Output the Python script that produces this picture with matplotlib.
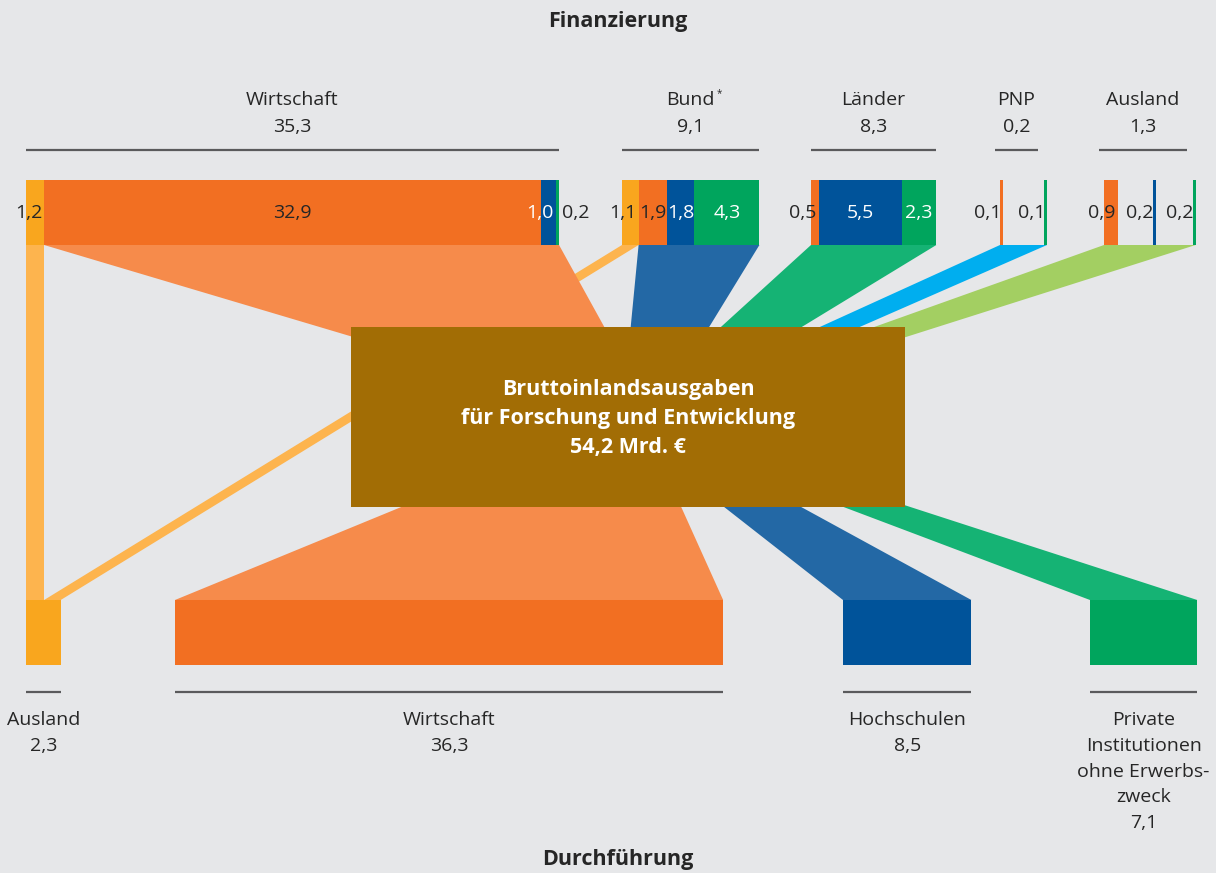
import numpy as np
import matplotlib
matplotlib.use("Agg")
from matplotlib import pyplot as plt
from matplotlib.patches import Polygon, Rectangle

plt.rcParams['font.family'] = ['Open Sans', 'DejaVu Sans']

# Mrd. Euro: Finanzierung (oben) -> Durchführung (unten)
quellen = ["Wirtschaft", "Bund", "Länder", "PNP", "Ausland"]
quellen_summe = [35.3, 9.1, 8.3, 0.2, 1.3]
# je Quelle: an Ausland, Wirtschaft, Hochschulen, Private Institutionen
wirtschaft = [1.2, 32.9, 1.0, 0.2]
bund = [1.1, 1.9, 1.8, 4.3]
laender = [0.0, 0.5, 5.5, 2.3]
pnp = [0.0, 0.1, 0.0, 0.1]
ausland = [0.0, 0.9, 0.2, 0.2]
aufteilung = [wirtschaft, bund, laender, pnp, ausland]

sektoren = ["Ausland", "Wirtschaft", "Hochschulen",
            "Private\nInstitutionen\nohne Erwerbs-\nzweck"]
sektor_summe = [2.3, 36.3, 8.5, 7.1]
gesamt = 54.2

# layout (Pixel)
px = 15.1
oben_y0, oben_y1 = 180, 245
unten_y0, unten_y1 = 600, 665
quelle_x = [26, 622, 811, 1000, 1104]
luecken = [[0, 0, 0, 0], [0, 0, 0, 0], [0, 0, 0, 0], [0, 0, 0, 41], [0, 0, 35, 37]]
sektor_x = [26, 175, 843, 1090]
hub_oben = (622, 654, 417)
hub_unten = (613, 642, 420)
fs = 14

hintergrund = "#E6E7E9"
text_farbe = "#262626"
linie_farbe = "#5A5A5C"
bar_farben = ["#F9A61E", "#F26F22", "#00539A", "#00A55D"]
quell_fluss = ["#F68B4B", "#2368A5", "#15B374", "#00AEEF", "#A3CF62"]
sektor_fluss = ["#FDB44E", "#F68B4B", "#2368A5", "#15B374"]
box_farbe = "#A26D05"


def fmt(v):
    return f"{v:.1f}".replace(".", ",")


def segmente(start, werte, gaps):
    xs = []
    x = start
    for w, g in zip(werte, gaps):
        x += g
        b = max(w * px, 3) if w > 0 else 0
        xs.append((x, x + b))
        x += b
    return xs


fig = plt.figure(figsize=(12.16, 8.73), dpi=100)
fig.patch.set_facecolor(hintergrund)
ax = fig.add_axes([0, 0, 1, 1])
ax.set_xlim(0, 1216)
ax.set_ylim(873, 0)
ax.axis("off")

seg = [segmente(quelle_x[i], aufteilung[i], luecken[i]) for i in range(len(quellen))]

# direkte Flüsse ins Ausland (gelb)
aus_x = sektor_x[0]
for i, werte in enumerate(aufteilung):
    if werte[0] > 0:
        s0, s1 = seg[i][0]
        b = werte[0] * px
        ax.add_patch(Polygon([(s0, oben_y1), (s1, oben_y1), (aus_x + b, unten_y0), (aus_x, unten_y0)],
                             closed=True, fc=sektor_fluss[0], ec="none", zorder=1))
        aus_x += b

# Flüsse von den Quellen zur Mitte
for i in range(len(quellen)):
    teile = [s for s, w in zip(seg[i][1:], aufteilung[i][1:]) if w > 0]
    x0, x1 = teile[0][0], teile[-1][1]
    hl, hr, hy = hub_oben
    ax.add_patch(Polygon([(x0, oben_y1), (x1, oben_y1), (hr, hy), (hl, hy)],
                         closed=True, fc=quell_fluss[i], ec="none", zorder=2))

# Flüsse von der Mitte zu den Sektoren
for j in range(1, len(sektoren)):
    x0 = sektor_x[j]
    x1 = x0 + sektor_summe[j] * px
    hl, hr, hy = hub_unten
    ax.add_patch(Polygon([(hl, hy), (hr, hy), (x1, unten_y0), (x0, unten_y0)],
                         closed=True, fc=sektor_fluss[j], ec="none", zorder=2))

# Balken oben mit Werten
for i in range(len(quellen)):
    for k, (w, (a, b)) in enumerate(zip(aufteilung[i], seg[i])):
        if w <= 0:
            continue
        ax.add_patch(Rectangle((a, oben_y0), b - a, oben_y1 - oben_y0,
                               fc=bar_farben[k], ec="none", zorder=3))
        breite = b - a
        farbe = "white" if (k >= 2 and breite >= 10) else text_farbe
        ym = (oben_y0 + oben_y1) / 2
        if i == 0 and k == 3:
            ax.text(b + 3, ym, fmt(w), ha="left", va="center", fontsize=fs, color=text_farbe, zorder=5)
        elif breite >= 25:
            ax.text((a + b) / 2, ym, fmt(w), ha="center", va="center", fontsize=fs, color=farbe, zorder=5)
        else:
            ax.text(b - 2, ym, fmt(w), ha="right", va="center", fontsize=fs, color=farbe, zorder=5)

    # Kopf: Linie, Name, Summe
    teile = [s for s, w in zip(seg[i], aufteilung[i]) if w > 0]
    x0, x1 = teile[0][0], teile[-1][1]
    if x1 - x0 < 100:
        x0, x1 = x0 - 5, x1 - 9
    xm = (x0 + x1) / 2
    ax.plot([x0, x1], [150, 150], color=linie_farbe, lw=1.6, solid_capstyle="butt")
    t = ax.text(xm, 100, quellen[i], ha="center", va="center", fontsize=fs, color=text_farbe)
    ax.text(xm, 127, fmt(quellen_summe[i]), ha="center", va="center", fontsize=fs, color=text_farbe)
    if quellen[i] == "Bund":
        ax.annotate("*", xy=(1, 1), xycoords=t, xytext=(1, 2), textcoords="offset points",
                    ha="left", va="top", fontsize=7, color=text_farbe)

# Balken unten mit Beschriftung
for j in range(len(sektoren)):
    x0 = sektor_x[j]
    b = sektor_summe[j] * px
    ax.add_patch(Rectangle((x0, unten_y0), b, unten_y1 - unten_y0,
                           fc=bar_farben[j], ec="none", zorder=3))
    ax.plot([x0, x0 + b], [692, 692], color=linie_farbe, lw=1.6, solid_capstyle="butt")
    zeilen = sektoren[j].split("\n") + [fmt(sektor_summe[j])]
    for n, z in enumerate(zeilen):
        ax.text(x0 + b / 2, 720 + n * 25.8, z, ha="center", va="center", fontsize=fs, color=text_farbe)

# Mitte
ax.add_patch(Rectangle((351, 327), 554, 180, fc=box_farbe, ec="none", zorder=4))
box_text = ["Bruttoinlandsausgaben", "für Forschung und Entwicklung", fmt(gesamt) + " Mrd. €"]
for n, z in enumerate(box_text):
    ax.text(628, 390 + n * 28.5, z, ha="center", va="center", fontsize=15.5,
            fontweight="bold", color="white", zorder=5)

ax.text(618, 22, "Finanzierung", ha="center", va="center", fontsize=15.5, fontweight="bold", color=text_farbe)
ax.text(618, 860, "Durchführung", ha="center", va="center", fontsize=15.5, fontweight="bold", color=text_farbe)

fig.savefig("out.png", dpi=100, facecolor=hintergrund)
